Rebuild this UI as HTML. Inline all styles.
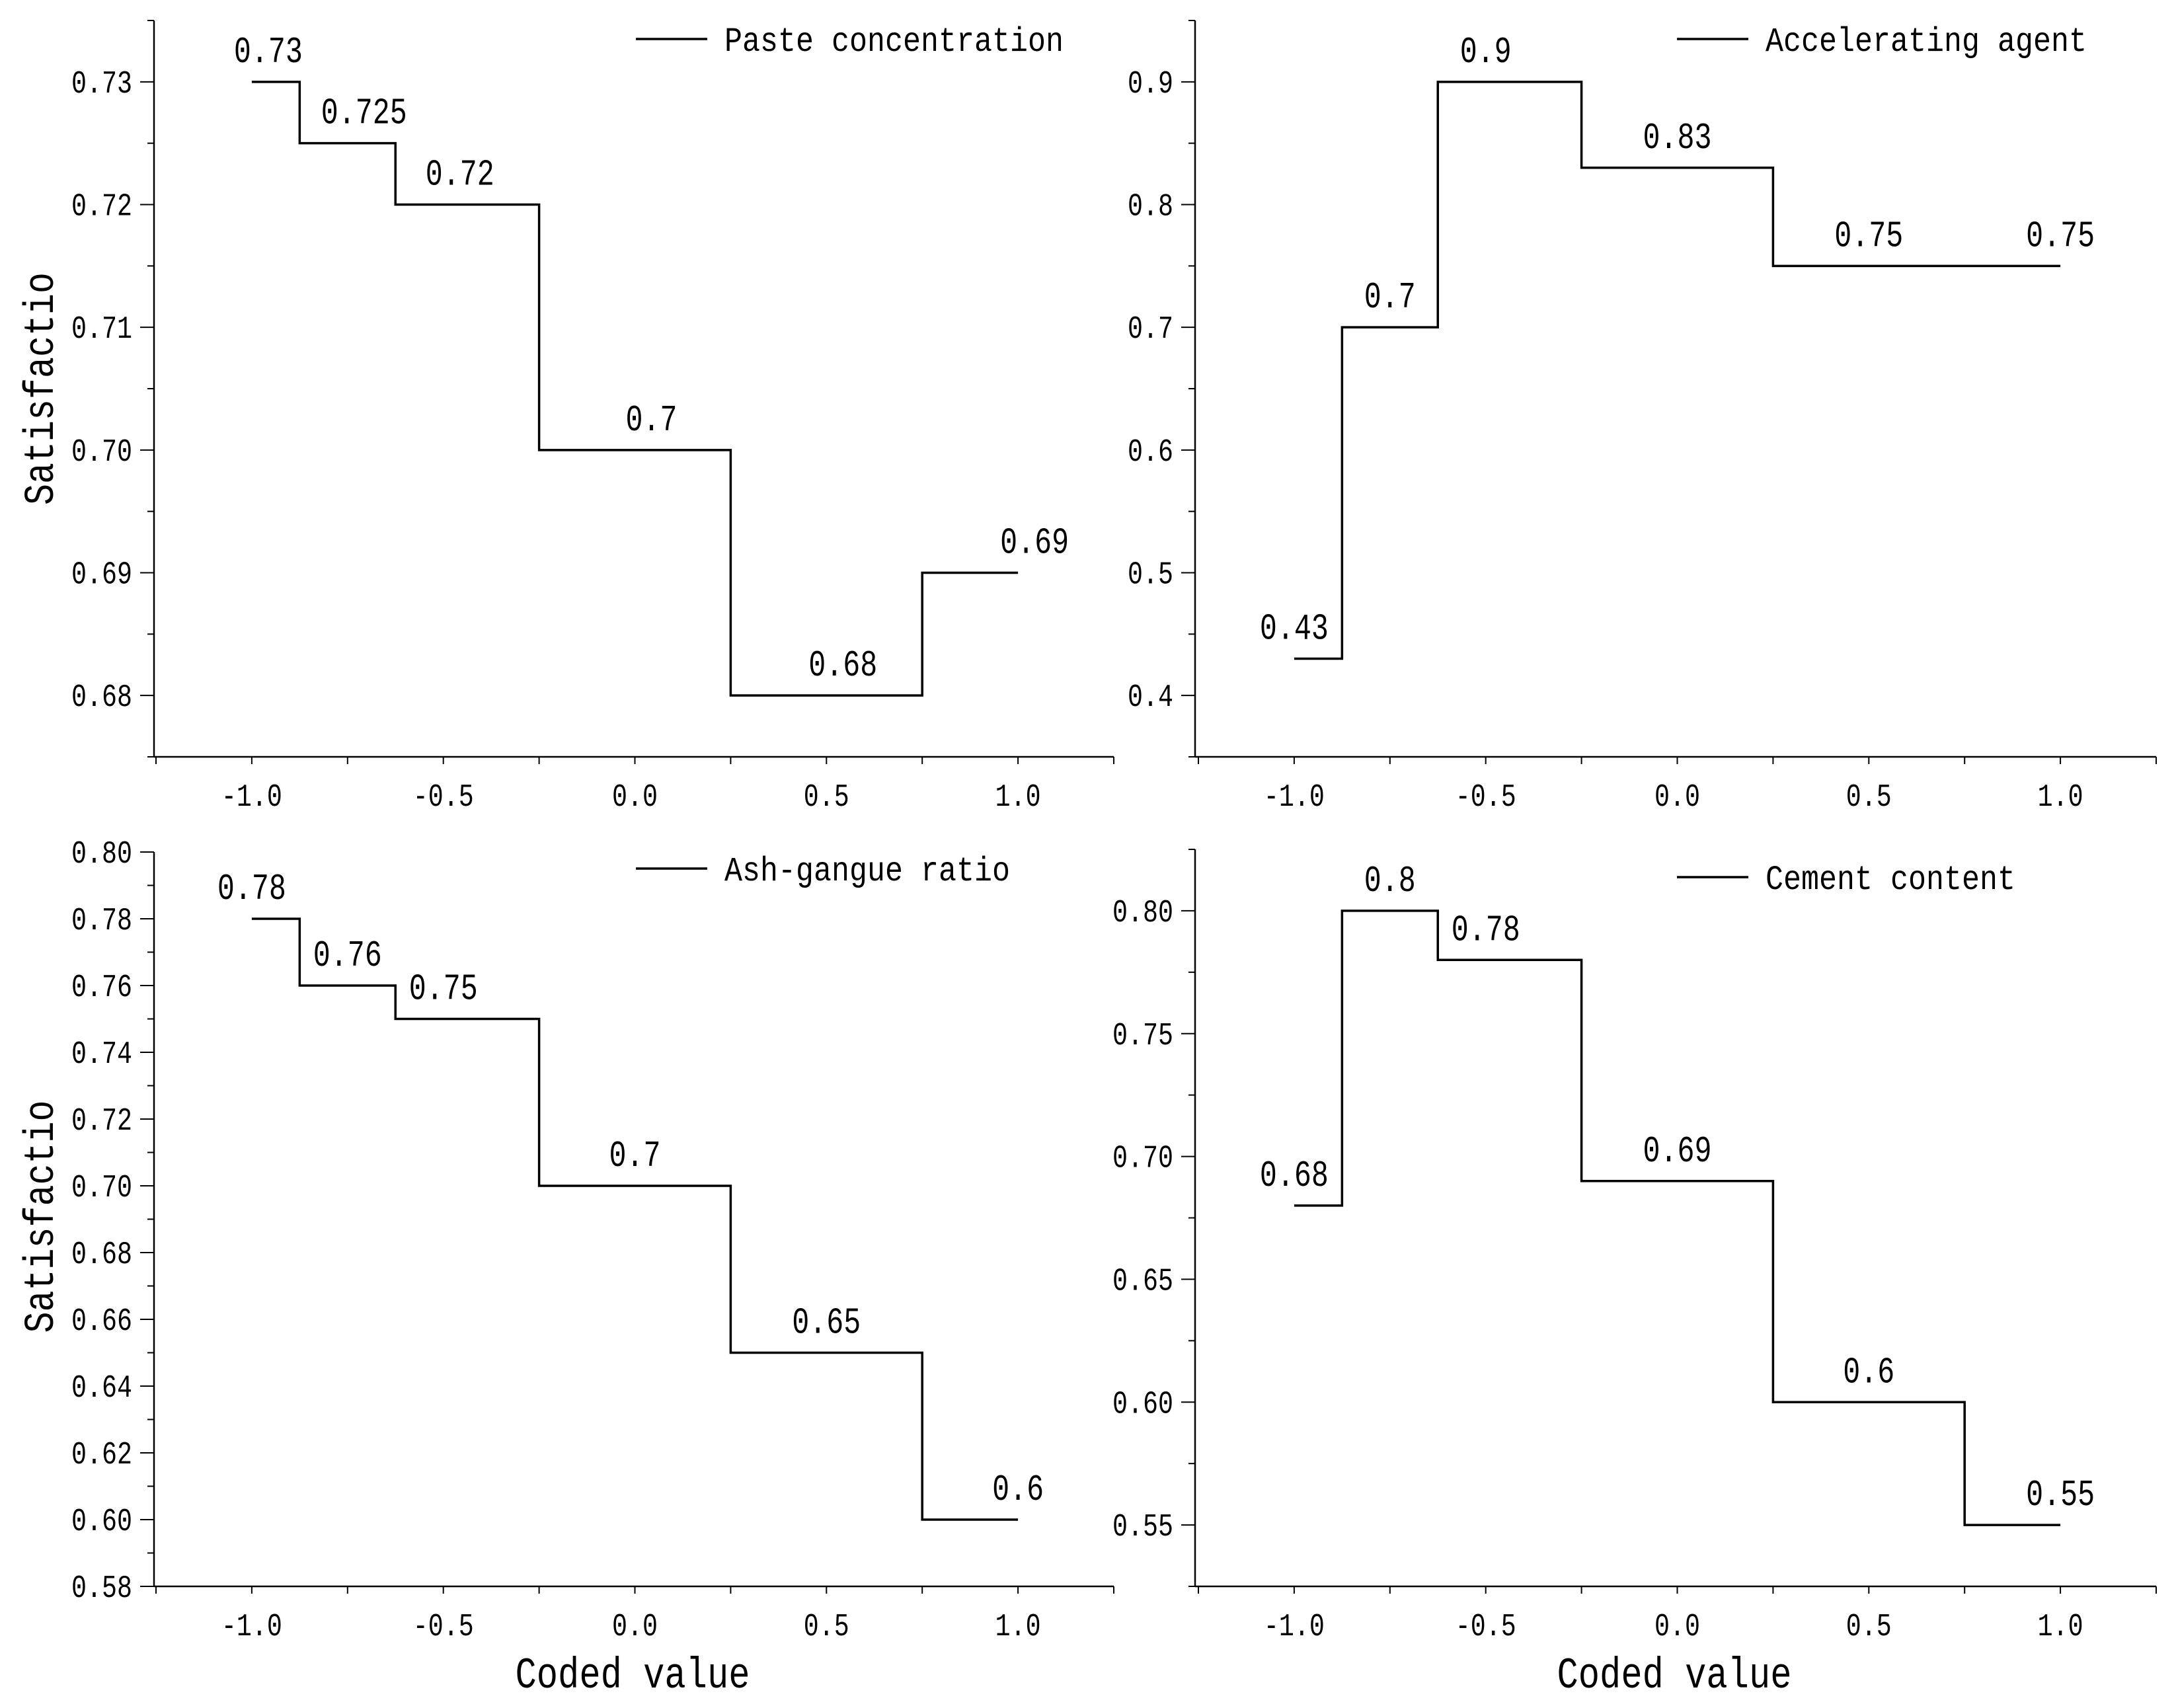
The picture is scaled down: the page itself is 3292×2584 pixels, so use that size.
<!DOCTYPE html>
<html><head><meta charset="utf-8"><style>
html,body{margin:0;padding:0;background:#fff}
svg{display:block}
text{font-family:"Liberation Mono","Noto Sans CJK SC",monospace;fill:#000}
</style></head><body>
<svg id="chart" width="3292" height="2584" viewBox="0 0 3292 2584" xmlns="http://www.w3.org/2000/svg"></svg>
<script>
const xPoints = [-1, -0.75, -0.5, 0, 0.5, 1];
const xTickLabels = ["-1.0", "-0.5", "0.0", "0.5", "1.0"];
const pasteValues = [0.73, 0.725, 0.72, 0.7, 0.68, 0.69];
const pasteLabels = ["0.73", "0.725", "0.72", "0.7", "0.68", "0.69"];
const accelValues = [0.43, 0.7, 0.9, 0.83, 0.75, 0.75];
const accelLabels = ["0.43", "0.7", "0.9", "0.83", "0.75", "0.75"];
const ashValues = [0.78, 0.76, 0.75, 0.7, 0.65, 0.6];
const ashLabels = ["0.78", "0.76", "0.75", "0.7", "0.65", "0.6"];
const cementValues = [0.68, 0.8, 0.78, 0.69, 0.6, 0.55];
const cementLabels = ["0.68", "0.8", "0.78", "0.69", "0.6", "0.55"];
const pasteTicks = ["0.68", "0.69", "0.70", "0.71", "0.72", "0.73"];
const accelTicks = ["0.4", "0.5", "0.6", "0.7", "0.8", "0.9"];
const ashTicks = ["0.58", "0.60", "0.62", "0.64", "0.66", "0.68", "0.70", "0.72", "0.74", "0.76", "0.78", "0.80"];
const cementTicks = ["0.55", "0.60", "0.65", "0.70", "0.75", "0.80"];

const NS = "http://www.w3.org/2000/svg";
const svg = document.getElementById("chart");
function mk(tag, attrs, parent, txt) {
  const e = document.createElementNS(NS, tag);
  for (const k in attrs) e.setAttribute(k, attrs[k]);
  if (txt !== undefined) e.textContent = txt;
  parent.appendChild(e);
  return e;
}

const panels = [
  {key:"paste", name:"Paste concentration", vals:pasteValues, labs:pasteLabels, ticks:pasteTicks, ymin:0.675, ymax:0.735, minorStep:0.005,
   left:236, right:1685, top:31, bottom:1145, axisX:233, labelDx:25, legendY:59, title:true, xtitle:false},
  {key:"accel", name:"Accelerating agent", vals:accelValues, labs:accelLabels, ticks:accelTicks, ymin:0.35, ymax:0.95, minorStep:0.05,
   left:1813, right:3262, top:31, bottom:1145, axisX:1808, labelDx:0, legendY:59, title:false, xtitle:false},
  {key:"ash", name:"Ash-gangue ratio", vals:ashValues, labs:ashLabels, ticks:ashTicks, ymin:0.58, ymax:0.80, minorStep:0.01,
   left:236, right:1685, top:1289, bottom:2400, axisX:233, labelDx:0, legendY:1314, title:true, xtitle:true},
  {key:"cement", name:"Cement content", vals:cementValues, labs:cementLabels, ticks:cementTicks, ymin:0.525, ymax:0.825, minorStep:0.025,
   left:1813, right:3262, top:1285, bottom:2400, axisX:1808, labelDx:0, legendY:1327, title:false, xtitle:true}
];

panels.forEach(p => {
  const g = mk("g", {}, svg);
  
  
  const xs = v => p.left + (v + 1.25) / 2.5 * (p.right - p.left);
  const ys = v => p.bottom - (v - p.ymin) / (p.ymax - p.ymin) * (p.bottom - p.top);

  const ya = mk("line", {x1:p.axisX, y1:p.top, x2:p.axisX, y2:p.bottom, stroke:"#000", "stroke-width":2.5}, g);
  
  
  const xa = mk("line", {x1:p.axisX, y1:p.bottom, x2:p.right, y2:p.bottom, stroke:"#000", "stroke-width":2.5}, g);
  
  

  const nMinor = Math.round((p.ymax - p.ymin) / p.minorStep);
  for (let i = 0; i <= nMinor; i++) {
    const v = p.ymin + i * p.minorStep;
    const isMajor = p.ticks.some(t => Math.abs(parseFloat(t) - v) < 1e-6);
    const y = ys(v);
    const t = mk("line", {x1:p.axisX - (isMajor ? 21 : 10), y1:y, x2:p.axisX, y2:y, stroke:"#000", "stroke-width":2}, g);
    
    
  }
  p.ticks.forEach(tl => {
    const y = ys(parseFloat(tl));
    const t = mk("text", {x:p.axisX - 33, y:y + 16, "font-size":48, "text-anchor":"end", textLength:tl.length * 23, lengthAdjust:"spacingAndGlyphs"}, g, tl);
    
    
  });

  for (let v = -1.25; v <= 1.2501; v += 0.25) {
    const x = xs(v);
    const t = mk("line", {x1:x, y1:p.bottom, x2:x, y2:p.bottom + 11, stroke:"#000", "stroke-width":2}, g);
    
    
  }
  xTickLabels.forEach(tl => {
    const x = xs(parseFloat(tl));
    const t = mk("text", {x:x, y:p.bottom + 74, "font-size":48, "text-anchor":"middle", textLength:tl.length * 23, lengthAdjust:"spacingAndGlyphs"}, g, tl);
    
    
  });

  let d = "";
  for (let i = 0; i < xPoints.length; i++) {
    const y = ys(p.vals[i]);
    const x0 = i === 0 ? xs(xPoints[0]) : xs((xPoints[i - 1] + xPoints[i]) / 2);
    const x1 = i === xPoints.length - 1 ? xs(xPoints[i]) : xs((xPoints[i] + xPoints[i + 1]) / 2);
    d += (i === 0 ? "M" : "L") + x0 + " " + y + " L" + x1 + " " + y + " ";
  }
  const path = mk("path", {d:d, fill:"none", stroke:"#000", "stroke-width":3.5, "stroke-linejoin":"miter"}, g);
  
  

  p.labs.forEach((lb, i) => {
    const t = mk("text", {x:xs(xPoints[i]) + p.labelDx, y:ys(p.vals[i]) - 30, "font-size":56, "text-anchor":"middle", textLength:lb.length * 26, lengthAdjust:"spacingAndGlyphs"}, g, lb);
    
    
  });

  const lx = p.axisX + 729;
  const lg = mk("g", {}, g);
  
  
  mk("line", {x1:lx, y1:p.legendY, x2:lx + 108, y2:p.legendY, stroke:"#000", "stroke-width":3.5}, lg);
  mk("text", {x:lx + 134, y:p.legendY + 18, "font-size":52, textLength:p.name.length * 27, lengthAdjust:"spacingAndGlyphs"}, lg, p.name);

  if (p.title) {
    const cy = (p.top + p.bottom) / 2 + (p.key === "paste" ? 0 : -4);
    const t = mk("text", {x:0, y:0, "font-size":64, "text-anchor":"middle", textLength:352, lengthAdjust:"spacingAndGlyphs", transform:"translate(80 " + cy + ") rotate(-90)"}, g, "Satisfactio");
    
    
  }
  if (p.xtitle) {
    const t = mk("text", {x:(p.axisX + p.right) / 2 - 2, y:2553, "font-size":66, "text-anchor":"middle", textLength:355, lengthAdjust:"spacingAndGlyphs"}, g, "Coded value");
    
    
  }
});
</script>
</body></html>
